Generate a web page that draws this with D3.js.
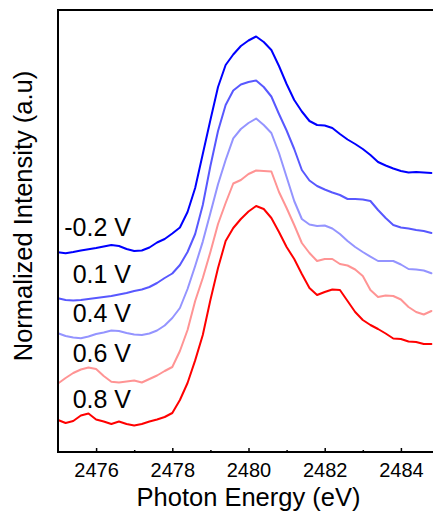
<!DOCTYPE html>
<html>
<head>
<meta charset="utf-8">
<script src="https://cdn.jsdelivr.net/npm/d3@7/dist/d3.min.js"></script>
<style>
  html, body { margin: 0; padding: 0; background: #fff; }
  svg { display: block; font-family: "Liberation Sans", Arial, sans-serif; }
</style>
</head>
<body>
<svg id="chart" width="433" height="513"></svg>
<script>
// Photon energy grid (eV)
const energy = d3.range(50).map(i => +(2475 + i * 0.2).toFixed(1));

// Vertically offset, normalized S K-edge spectra at each applied potential
const seriesLabels = ["-0.2 V", "0.1 V", "0.4 V", "0.6 V", "0.8 V"];
const seriesColors = ["#0000ff", "#5858ff", "#9494ff", "#ff9494", "#ff0000"];

const vM02 = [1.997, 1.987, 2.00, 2.015, 2.027, 2.04, 2.055, 2.07, 2.06, 2.03,
              2.01, 2.015, 2.045, 2.095, 2.13, 2.185, 2.245, 2.40, 2.64, 2.98,
              3.32, 3.65, 3.87, 3.975, 4.06, 4.115, 4.155, 4.10, 4.02, 3.86,
              3.68, 3.52, 3.405, 3.31, 3.27, 3.265, 3.24, 3.18, 3.125, 3.08,
              3.03, 2.97, 2.90, 2.865, 2.835, 2.81, 2.795, 2.80, 2.795, 2.79];
const v01  = [1.537, 1.52, 1.515, 1.52, 1.53, 1.54, 1.55, 1.56, 1.575, 1.59,
              1.61, 1.625, 1.65, 1.69, 1.74, 1.785, 1.87, 2.00, 2.18, 2.47,
              2.86, 3.21, 3.47, 3.615, 3.675, 3.70, 3.715, 3.65, 3.555, 3.38,
              3.215, 3.03, 2.82, 2.715, 2.66, 2.625, 2.595, 2.57, 2.53, 2.53,
              2.525, 2.51, 2.42, 2.34, 2.27, 2.245, 2.235, 2.22, 2.21, 2.19];
const v04  = [1.187, 1.16, 1.145, 1.137, 1.155, 1.18, 1.195, 1.215, 1.21, 1.19,
              1.175, 1.17, 1.185, 1.215, 1.265, 1.34, 1.44, 1.63, 1.86, 2.104,
              2.39, 2.677, 2.92, 3.137, 3.23, 3.29, 3.335, 3.27, 3.19, 2.99,
              2.75, 2.51, 2.33, 2.275, 2.26, 2.265, 2.235, 2.18, 2.11, 2.05,
              2.00, 1.953, 1.91, 1.91, 1.91, 1.875, 1.83, 1.825, 1.815, 1.787];
const v06  = [0.685, 0.74, 0.79, 0.825, 0.845, 0.83, 0.76, 0.703, 0.695, 0.705,
              0.715, 0.695, 0.73, 0.765, 0.81, 0.85, 1.01, 1.22, 1.51, 1.74,
              2.00, 2.28, 2.49, 2.685, 2.72, 2.78, 2.815, 2.81, 2.805, 2.60,
              2.44, 2.27, 2.09, 1.99, 1.91, 1.93, 1.93, 1.88, 1.865, 1.825,
              1.76, 1.62, 1.55, 1.565, 1.56, 1.525, 1.45, 1.40, 1.375, 1.41];
const v08  = [0.32, 0.29, 0.31, 0.365, 0.385, 0.325, 0.305, 0.28, 0.305, 0.28,
              0.265, 0.28, 0.305, 0.325, 0.35, 0.39, 0.52, 0.69, 0.916, 1.17,
              1.52, 1.84, 2.11, 2.24, 2.33, 2.405, 2.46, 2.43, 2.34, 2.20,
              2.05, 1.93, 1.78, 1.64, 1.57, 1.60, 1.625, 1.62, 1.51, 1.40,
              1.32, 1.27, 1.23, 1.185, 1.135, 1.13, 1.105, 1.10, 1.08, 1.08];
const seriesValues = [vM02, v01, v04, v06, v08];

// Where each potential label sits (intensity of its text baseline)
const labelLevels = [2.16, 1.687, 1.303, 0.903, 0.443];

// Axis ticks
const majorTicks = [2476, 2478, 2480, 2482, 2484];
const minorTicks = [2477, 2479, 2481, 2483];

const svg = d3.select("#chart");
const plotLeft = 58, plotRight = 439, plotTop = 10, plotBottom = 452;

const x = d3.scaleLinear().domain([2475, 2485]).range([plotLeft, plotRight]);
const y = d3.scaleLinear().domain([0, 4.42]).range([plotBottom, plotTop]);

// Spectra
const line = d3.line()
  .x((d, i) => x(energy[i]))
  .y(d => y(d));

svg.append("g")
  .selectAll("path")
  .data(seriesValues)
  .join("path")
  .attr("d", d => line(d))
  .attr("fill", "none")
  .attr("stroke", (d, i) => seriesColors[i])
  .attr("stroke-width", 2)
  .attr("stroke-linejoin", "round")
  .attr("stroke-linecap", "round");

// Potential labels
svg.append("g")
  .selectAll("text")
  .data(seriesLabels)
  .join("text")
  .attr("x", 131)
  .attr("y", (d, i) => y(labelLevels[i]))
  .attr("text-anchor", "end")
  .attr("font-size", 25)
  .attr("fill", "#000")
  .text(d => d);

// Bottom axis: major ticks with labels, minor ticks pointing inward
const gx = svg.append("g")
  .attr("transform", `translate(0,${plotBottom})`)
  .call(d3.axisBottom(x).tickValues(majorTicks).tickSize(-4).tickFormat(d3.format("d")));
gx.select(".domain").remove();
gx.selectAll(".tick line").attr("stroke", "#000").attr("stroke-width", 1.5);
gx.selectAll(".tick text")
  .attr("y", 25).attr("dy", 0)
  .attr("font-size", 20)
  .attr("font-family", "'Liberation Sans', Arial, sans-serif")
  .attr("fill", "#000");

const gxm = svg.append("g")
  .attr("transform", `translate(0,${plotBottom})`)
  .call(d3.axisBottom(x).tickValues(minorTicks).tickSize(-2).tickFormat(""));
gxm.select(".domain").remove();
gxm.selectAll(".tick line").attr("stroke", "#000").attr("stroke-width", 1.5);

// Frame
svg.append("rect")
  .attr("x", plotLeft).attr("y", plotTop)
  .attr("width", plotRight - plotLeft).attr("height", plotBottom - plotTop)
  .attr("fill", "none")
  .attr("stroke", "#000")
  .attr("stroke-width", 2);

// Axis titles
svg.append("text")
  .attr("x", (plotLeft + plotRight) / 2)
  .attr("y", 506)
  .attr("text-anchor", "middle")
  .attr("font-size", 25.5)
  .attr("fill", "#000")
  .text("Photon Energy (eV)");

svg.append("text")
  .attr("transform", "translate(32,216) rotate(-90)")
  .attr("text-anchor", "middle")
  .attr("font-size", 25.5)
  .attr("fill", "#000")
  .text("Normalized Intensity (a.u)");
</script>
</body>
</html>
